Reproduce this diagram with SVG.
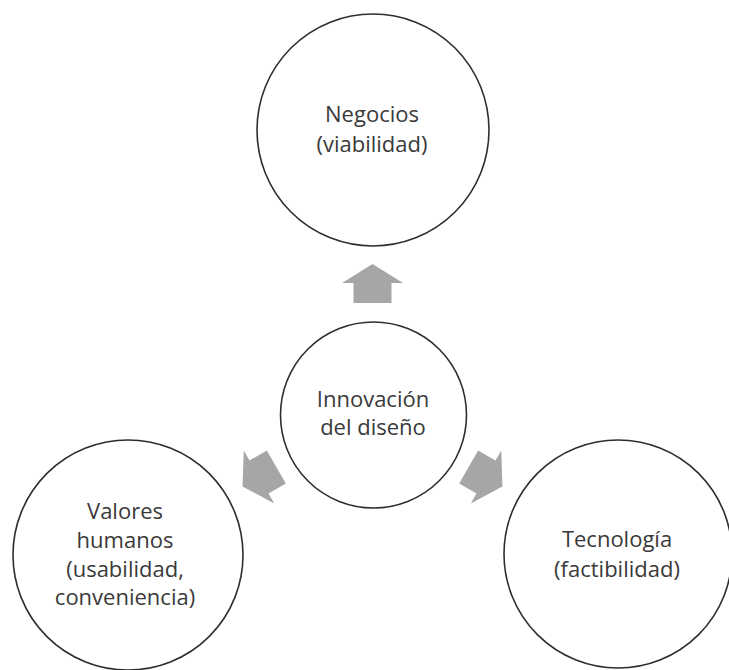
<svg xmlns="http://www.w3.org/2000/svg" width="729" height="670" viewBox="0 0 729 670">
  <style>
    .node { fill: #ffffff; stroke: #2e2e2e; stroke-width: 1.6; }
    .label { font-family: "Open Sans", "DejaVu Sans", sans-serif; font-size: 22px; fill: #3a3a3a; text-anchor: middle; }
    .arrow { fill: #a6a6a6; stroke: none; }
  </style>
  <defs>
    <polygon id="arr" points="0,-19 30.5,0 19,0 19,20 -19,20 -19,0 -30.5,0"/>
  </defs>
  <rect width="729" height="670" fill="#ffffff"/>
  <g id="connectors">
    <use href="#arr" class="arrow" transform="translate(372.5,283)"/>
    <use href="#arr" class="arrow" transform="translate(259,477) rotate(-120)"/>
    <use href="#arr" class="arrow" transform="translate(486,477) rotate(120)"/>
  </g>
  <g id="negocios">
    <circle class="node" cx="373" cy="130" r="116"/>
    <text class="label" x="372" y="122">Negocios</text>
    <text class="label" x="372" y="152">(viabilidad)</text>
  </g>
  <g id="innovacion">
    <circle class="node" cx="373.5" cy="415" r="93"/>
    <text class="label" x="373" y="407">Innovación</text>
    <text class="label" x="373" y="435">del diseño</text>
  </g>
  <g id="valores">
    <circle class="node" cx="128" cy="555" r="115"/>
    <text class="label" x="125" y="519">Valores</text>
    <text class="label" x="125" y="548">humanos</text>
    <text class="label" x="125" y="577">(usabilidad,</text>
    <text class="label" x="125" y="605">conveniencia)</text>
  </g>
  <g id="tecnologia">
    <circle class="node" cx="618" cy="554" r="114"/>
    <text class="label" x="617" y="547">Tecnología</text>
    <text class="label" x="617" y="577">(factibilidad)</text>
  </g>
</svg>
